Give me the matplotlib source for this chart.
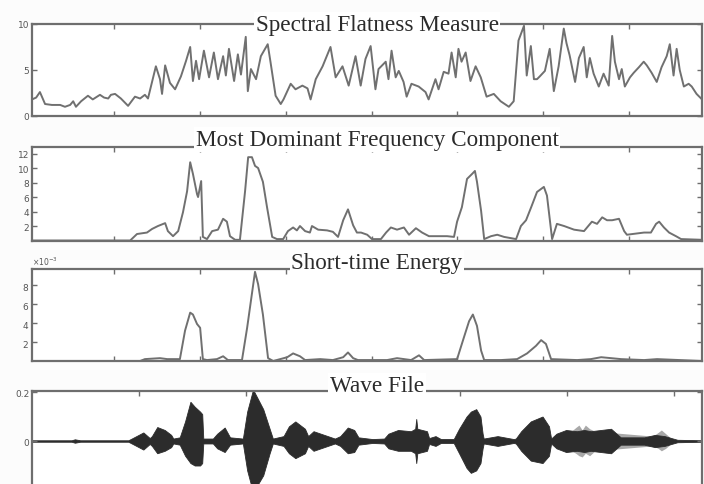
import numpy as np
import matplotlib
matplotlib.use("Agg")
import matplotlib.pyplot as plt
from matplotlib.ticker import ScalarFormatter

# spectral flatness per frame (turning points)
sfm_frame = [1, 2.2, 3.3, 4.8, 6.8, 9.2, 10.6, 12.1, 13.0, 13.8, 15.3, 17.3, 18.7, 20.8,
             22.0, 23.2, 24.0, 25.2, 26.9, 29.0, 31.0, 32.5, 33.9, 34.8, 36.3, 37.1, 38.3,
             38.9, 39.8, 41.2, 42.7, 44.4, 45.9, 47.1, 47.9, 48.8, 49.7, 51.1, 52.6, 54.0,
             55.2, 56.7, 57.5, 58.4, 59.9, 61.0, 61.9, 63.3, 63.9, 64.8, 66.3, 67.7, 69.7,
             70.5, 72.0, 73.5, 74.3, 76.4, 77.8, 79.8, 81.3, 82.2, 83.7, 85.7, 88.0, 89.5,
             91.5, 93.3, 95.3, 96.8, 98.2, 99.7, 101.1, 102.0, 104.1, 104.9, 105.8, 107.0,
             107.9, 109.3, 110.2, 111.6, 113.7, 115.7, 116.6, 118.6, 119.5, 121.0, 122.4,
             123.3, 124.5, 125.3, 126.2, 127.4, 128.8, 130.3, 131.8, 133.5, 135.6, 137.6,
             140.0, 141.4, 142.8, 144.4, 145.2, 146.4, 147.3, 148.2, 149.0, 150.5, 151.9,
             153.1, 154.5, 156.0, 156.8, 157.7, 159.3, 160.4, 161.8, 162.7, 163.6, 164.7,
             166.2, 167.6, 169.1, 170.1, 170.9, 172.1, 172.9, 173.8, 175.3, 176.4, 177.9,
             179.3, 180.2, 181.6, 183.1, 184.5, 186.0, 186.9, 188.0, 188.9, 189.8, 191.0,
             192.4, 193.3, 194.7, 196.3]
sfm_value = [1.8, 2.0, 2.6, 1.3, 1.2, 1.2, 1.0, 1.2, 1.6, 1.0, 1.6, 2.2, 1.8, 2.3,
             2.0, 1.9, 2.3, 2.4, 1.9, 1.1, 2.1, 1.9, 2.3, 1.9, 4.2, 5.4, 4.0,
             2.4, 5.5, 3.6, 2.9, 4.3, 6.0, 7.5, 3.8, 6.0, 4.0, 7.1, 4.2, 6.9,
             4.0, 6.5, 4.4, 7.3, 3.8, 6.7, 4.5, 8.6, 2.7, 5.1, 4.0, 6.5, 7.8,
             5.9, 2.2, 1.3, 1.8, 3.5, 2.9, 3.3, 3.0, 1.8, 4.0, 5.4, 7.5, 4.2,
             5.4, 3.3, 6.5, 3.3, 6.2, 7.6, 2.9, 5.1, 5.9, 4.0, 7.1, 4.2,
             4.9, 3.7, 2.1, 3.5, 3.2, 2.6, 1.8, 4.0, 2.9, 4.8, 4.6,
             6.9, 4.2, 7.3, 5.9, 6.9, 3.8, 5.4, 4.2, 2.1, 2.4, 1.6,
             1.0, 1.6, 8.2, 9.8, 4.4, 7.6, 4.0, 4.0, 4.3, 4.9, 7.3,
             2.7, 5.4, 9.5, 7.9, 6.6, 3.7, 6.3, 7.5, 4.2, 6.3, 4.6,
             3.2, 4.6, 3.3, 8.7, 5.9, 4.0, 5.1, 3.2, 4.2, 4.7, 5.3,
             5.9, 5.5, 4.7, 3.7, 5.3, 6.5, 7.8, 4.4, 7.3, 5.0, 3.2,
             3.5, 3.2, 2.4, 1.8]

# most dominant frequency component
mdf_frame = [1, 29.6, 31.6, 34.5, 36.0, 37.7, 39.8, 40.6, 42.1, 43.6, 45.0, 46.2, 47.1,
             47.9, 49.1, 49.4, 50.3, 50.8, 52.0, 53.5, 55.2, 56.7, 57.8, 58.7, 60.2, 61.6,
             63.1, 64.0, 65.1, 66.0, 66.9, 68.3, 69.5, 71.0, 72.4, 74.2, 75.6, 77.1, 78.2,
             79.1, 80.6, 82.0, 82.6, 84.4, 87.0, 88.7, 90.2, 91.7, 93.1, 94.6, 95.7, 96.9,
             98.7, 100.1, 102.7, 104.2, 105.6, 107.4, 109.4, 110.9, 112.9, 114.7, 116.7,
             122.0, 124.0, 124.9, 126.3, 127.8, 129.3, 130.1, 130.7, 131.9, 132.8, 134.8,
             136.6, 138.6, 142.1, 143.5, 145.0, 146.5, 148.2, 150.2, 151.1, 152.6, 154.0,
             156.1, 159.0, 161.9, 164.2, 165.7, 167.2, 168.6, 170.1, 172.1, 173.6, 174.4,
             179.4, 181.4, 182.9, 183.8, 185.2, 186.7, 188.7, 190.2, 196.3]
mdf_value = [0, 0, 0.9, 1.1, 1.6, 2.0, 2.4, 1.3, 0.6, 1.3, 3.9, 6.8, 10.8,
             9.2, 6.4, 6.0, 8.2, 0.5, 0.2, 1.3, 1.5, 3.0, 2.6, 0.6, 0.1, 0.1,
             6.8, 11.5, 11.5, 10.3, 10.0, 8.1, 4.6, 0.5, 0.2, 0.2, 1.3, 1.8, 1.4,
             2.0, 1.3, 1.1, 2.0, 1.5, 1.4, 1.2, 0.5, 2.8, 4.3, 2.1, 1.1, 1.1,
             0.8, 0.2, 0.2, 1.1, 1.8, 1.5, 1.8, 0.8, 1.7, 1.1, 0.6,
             0.6, 0.5, 2.6, 4.6, 8.5, 9.2, 9.6, 8.1, 4.1, 0.2, 0.6,
             0.8, 0.5, 0.2, 2.0, 2.8, 4.6, 6.7, 7.4, 6.2, 0.2, 2.3,
             2.0, 1.5, 1.3, 2.6, 2.3, 3.2, 2.8, 2.8, 3.0, 1.3, 0.8,
             1.1, 1.1, 2.3, 2.6, 1.8, 1.1, 0.6, 0.2, 0.1]

# short-time energy (x 1e-3)
ste_frame = [1, 32.5, 33.9, 38.3, 40.4, 44.1, 45.6, 47.1, 47.9, 49.1, 50.0, 50.8, 52.0,
             54.9, 56.7, 58.1, 62.2, 63.7, 65.1, 66.0, 66.9, 68.3, 69.8, 71.3, 75.4, 77.1,
             79.1, 80.6, 85.0, 88.7, 91.7, 93.1, 94.6, 96.0, 99.8, 104.5, 107.4, 111.5,
             113.8, 115.3, 124.9, 126.9, 128.4, 129.5, 130.7, 131.9, 132.8, 137.7, 142.4,
             145.3, 147.9, 149.4, 150.8, 152.3, 159.9, 163.9, 166.9, 169.8, 172.7, 179.4,
             183.2, 196.3]
ste_value = [0, 0, 0.2, 0.3, 0.2, 0.2, 3.2, 5.1, 4.9, 3.9, 3.5, 0.2, 0.1,
             0.2, 0.5, 0.1, 0.1, 3.5, 7.1, 9.4, 8.1, 4.9, 0.3, 0.0, 0.4, 0.8,
             0.5, 0.1, 0.2, 0.1, 0.4, 0.9, 0.3, 0.1, 0.1, 0.1, 0.3, 0.1,
             0.6, 0.1, 0.2, 2.5, 4.2, 4.9, 3.7, 1.1, 0.1, 0.1, 0.2,
             0.8, 1.6, 2.2, 1.8, 0.2, 0.1, 0.2, 0.4, 0.3, 0.2, 0.1,
             0.2, 0.0]
ste_value = [v * 1e-3 for v in ste_value]

# waveform envelope: time, positive peak, negative peak (magnitude)
wave_t = [0.00, 0.37, 0.40, 0.45, 0.90, 0.94, 1.04, 1.10, 1.12, 1.17, 1.24, 1.30, 1.32,
          1.38, 1.43, 1.48, 1.52, 1.57, 1.59, 1.60, 1.69, 1.73, 1.80, 1.85, 1.97, 2.01,
          2.065, 2.16, 2.22, 2.25, 2.35, 2.40, 2.46, 2.55, 2.58, 2.63, 2.83, 2.88, 2.95,
          3.01, 3.05, 3.18, 3.29, 3.33, 3.42, 3.54, 3.58, 3.59, 3.60, 3.69, 3.71, 3.77,
          3.82, 3.94, 3.99, 4.06, 4.10, 4.15, 4.19, 4.21, 4.22, 4.35, 4.50, 4.52, 4.57,
          4.66, 4.77, 4.83, 4.85, 4.90, 4.99, 5.09, 5.16, 5.22, 5.41, 5.50, 5.72, 5.82,
          5.91, 6.03, 6.26]
wave_top = [.003, .003, .007, .003, .003, .012, .035, .012, .020, .057, .045, .025, .010,
            .015, .080, .160, .140, .120, .110, .010, .010, .030, .055, .015, .010, .120,
            .210, .130, .050, .010, .020, .060, .080, .050, .020, .040, .010, .020, .055,
            .045, .015, .008, .010, .030, .045, .040, .050, .090, .050, .040, .012, .020,
            .008, .008, .050, .100, .120, .130, .100, .030, .010, .020, .008, .010, .040,
            .080, .100, .060, .010, .030, .045, .040, .045, .040, .050, .015, .015, .025,
            .020, .005, .003]
wave_bot = [.003, .003, .007, .003, .003, .012, .035, .012, .020, .050, .040, .025, .010,
            .015, .060, .090, .100, .100, .090, .010, .010, .030, .045, .015, .010, .120,
            .210, .140, .050, .010, .020, .050, .070, .050, .020, .040, .010, .020, .050,
            .045, .015, .008, .010, .030, .040, .040, .050, .090, .050, .040, .012, .020,
            .008, .008, .050, .110, .130, .120, .090, .030, .010, .020, .008, .010, .040,
            .080, .090, .060, .010, .030, .045, .040, .045, .040, .050, .015, .015, .025,
            .020, .005, .003]
# fainter bursts
burst_t = [5.04, 5.08, 5.11, 5.14, 5.17, 5.21, 5.26, 5.80, 5.85, 5.88, 5.92, 5.96]
burst_top = [.040, .055, .065, .045, .065, .050, .040, .020, .035, .045, .030, .015]
burst_bot = [.040, .050, .060, .065, .050, .060, .040, .020, .030, .040, .030, .015]

frame_ticks = [25, 50, 75, 100, 125, 150, 175]
frame_lim = (1, 196.3)
time_ticks = [1, 2, 3, 4, 5, 6]
time_lim = (0, 6.26)

edge = "#6e6e6e"
line_col = "#707070"

fig = plt.figure(figsize=(7.04, 4.85), dpi=100)
fig.patch.set_facecolor("#fcfcfc")

boxes = [
    [0.0455, 0.7588, 0.9517, 0.1897],
    [0.0455, 0.5020, 0.9517, 0.1928],
    [0.0455, 0.2536, 0.9517, 0.1897],
    [0.0455, -0.0124, 0.9517, 0.2041],
]
axes = [fig.add_axes(b) for b in boxes]


def style(ax):
    ax.set_facecolor("white")
    for s in ax.spines.values():
        s.set_color(edge)
        s.set_linewidth(1.6)
    ax.tick_params(direction="in", length=3.5, width=1, color=edge,
                   top=True, right=True, labelsize=6.5, labelcolor="#555555",
                   pad=2)
    ax.set_xticklabels([])


def title(ax, text, dy):
    ax.annotate(text, xy=(0.515, 1), xycoords="axes fraction",
                xytext=(0, dy), textcoords="offset points",
                ha="center", va="baseline",
                family="Liberation Serif", size=16.7, color="#2b2b2b",
                bbox=dict(facecolor="white", edgecolor="none", pad=1.2),
                zorder=10, annotation_clip=False)


ax = axes[0]
ax.plot(sfm_frame, sfm_value, color=line_col, lw=1.4)
ax.set_xlim(frame_lim)
ax.set_ylim(0, 10)
ax.set_xticks(frame_ticks)
ax.set_yticks([0, 5, 10])
style(ax)
title(ax, "Spectral Flatness Measure", -4.3)

ax = axes[1]
ax.plot(mdf_frame, mdf_value, color=line_col, lw=1.4)
ax.set_xlim(frame_lim)
ax.set_ylim(0, 12.9)
ax.set_xticks(frame_ticks)
ax.set_yticks([2, 4, 6, 8, 10, 12])
style(ax)
title(ax, "Most Dominant Frequency Component", 1.4)

ax = axes[2]
ax.plot(ste_frame, ste_value, color=line_col, lw=1.4)
ax.set_xlim(frame_lim)
ax.set_ylim(0, 9.7e-3)
ax.set_xticks(frame_ticks)
ax.set_yticks([2e-3, 4e-3, 6e-3, 8e-3])
fmt = ScalarFormatter(useMathText=True)
fmt.set_powerlimits((0, 0))
ax.yaxis.set_major_formatter(fmt)
ax.yaxis.get_offset_text().set_fontsize(5.5)
ax.yaxis.get_offset_text().set_color("#555555")
style(ax)
title(ax, "Short-time Energy", 0.7)

ax = axes[3]
ax.fill_between(burst_t, burst_top, [-b for b in burst_bot], color="#a8a8a8", lw=0)
ax.fill_between(wave_t, wave_top, [-b for b in wave_bot], color="#2c2c2c", lw=0.6,
                edgecolor="#2c2c2c")
ax.set_xlim(time_lim)
ax.set_ylim(-0.2, 0.204)
ax.set_xticks(time_ticks)
ax.set_yticks([-0.2, 0, 0.2])
ax.set_yticklabels(["-0.2", "0", "0.2"])
style(ax)
title(ax, "Wave File", 0)

fig.savefig("out.png", dpi=100, facecolor=fig.get_facecolor())
